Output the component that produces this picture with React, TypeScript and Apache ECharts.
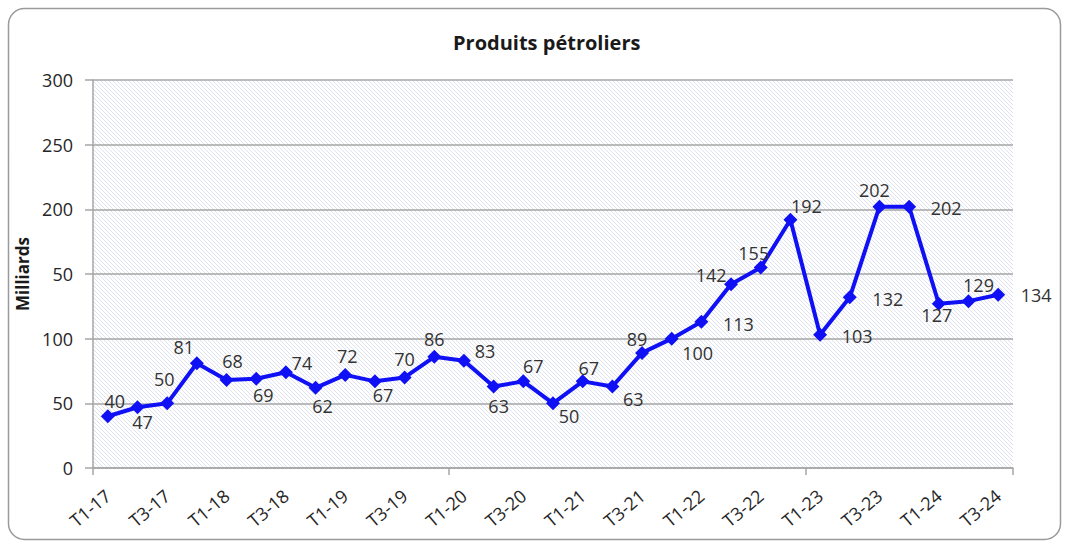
import React, { useEffect, useRef } from "react";
import * as echarts from "echarts";

const categories = [
  "T1-17", "T2-17", "T3-17", "T4-17",
  "T1-18", "T2-18", "T3-18", "T4-18",
  "T1-19", "T2-19", "T3-19", "T4-19",
  "T1-20", "T2-20", "T3-20", "T4-20",
  "T1-21", "T2-21", "T3-21", "T4-21",
  "T1-22", "T2-22", "T3-22", "T4-22",
  "T1-23", "T2-23", "T3-23", "T4-23",
  "T1-24", "T2-24", "T3-24",
];

const values = [
  40, 47, 50, 81, 68, 69, 74, 62, 72, 67, 70, 86, 83, 63, 67, 50,
  67, 63, 89, 100, 113, 142, 155, 192, 103, 132, 202, 202, 127, 129, 134,
];

// Tick labels as printed on the original (the 150 tick reads "50")
const yTickLabels = ["0", "50", "100", "50", "200", "250", "300"];

const title = "Produits pétroliers";
const yName = "Milliards";

// label centre offsets from each point (pixels)
const labelOffsets: [number, number][] = [
  [7, -15], [5, 15], [-3, -24], [-13, -16], [6, -19], [7, 16], [16, -9], [7, 18],
  [2, -19], [8, 14], [0, -18], [0, -18], [21, -10], [5, 19], [10, -15], [16, 13],
  [6, -13], [21, 12], [-5, -14], [26, 14], [37, 2], [-20, -9], [-7, -15], [16, -14],
  [37, 1], [38, 2], [-5, -17], [37, 1], [-2, 11], [10, -16], [38, 0],
];

function makePattern(): HTMLCanvasElement {
  const c = document.createElement("canvas");
  c.width = 8;
  c.height = 8;
  const ctx = c.getContext("2d")!;
  ctx.fillStyle = "#ffffff";
  ctx.fillRect(0, 0, 8, 8);
  ctx.strokeStyle = "rgba(196,204,226,0.55)";
  ctx.lineWidth = 1;
  for (let k = -3; k <= 3; k++) {
    ctx.beginPath();
    ctx.moveTo(-1, -1 + 4 * k);
    ctx.lineTo(9, 9 + 4 * k);
    ctx.stroke();
  }
  return c;
}

export default function App() {
  const ref = useRef<HTMLDivElement>(null);
  useEffect(() => {
    if (!ref.current) return;
    const chart = echarts.init(ref.current, undefined, { renderer: "svg" });
    const font = "'Open Sans', 'Liberation Sans', sans-serif";
    chart.setOption({
      animation: false,
      textStyle: { fontFamily: font },
      title: {
        text: title,
        left: 448,
        top: 27,
        textStyle: { fontSize: 20, fontWeight: "bold", color: "#1a1a1a", fontFamily: font },
      },
      graphic: [
        {
          type: "rect",
          shape: { x: 8.5, y: 8.5, width: 1052, height: 531, r: 16 },
          style: { fill: "none", stroke: "#9a9a9a", lineWidth: 1.5 },
          silent: true,
          z: -10,
        },
      ],
      grid: {
        left: 93,
        right: 53,
        top: 80,
        bottom: 76,
        show: true,
        borderWidth: 0,
        backgroundColor: { image: makePattern(), repeat: "repeat" },
      },
      xAxis: {
        type: "category",
        data: categories,
        boundaryGap: true,
        axisLine: { show: true, lineStyle: { color: "#a6a6a6", width: 1.5 } },
        axisTick: { show: true, interval: 11, length: 7, lineStyle: { color: "#a6a6a6", width: 1.5 } },
        axisLabel: {
          interval: 1,
          rotate: 40,
          margin: 25,
          fontSize: 18,
          color: "#262626",
          fontFamily: font,
        },
      },
      yAxis: {
        type: "value",
        min: 0,
        max: 300,
        interval: 50,
        name: yName,
        nameLocation: "middle",
        nameGap: 38,
        nameTextStyle: { fontSize: 17, fontWeight: "bold", color: "#1a1a1a", fontFamily: font },
        axisLine: { show: true, lineStyle: { color: "#a6a6a6", width: 1.5 } },
        axisTick: { show: true, length: 8, lineStyle: { color: "#a6a6a6", width: 1.5 } },
        axisLabel: {
          margin: 20,
          fontSize: 18,
          color: "#262626",
          fontFamily: font,
          formatter: (v: number) => yTickLabels[Math.round(v / 50)] ?? String(v),
        },
        splitLine: { show: true, lineStyle: { color: "#a6a6a6", width: 1.5 } },
      },
      series: [
        {
          type: "line",
          data: values.map((v, i) => ({
            value: v,
            label: { offset: labelOffsets[i] },
          })),
          symbol: "diamond",
          symbolSize: [14, 14],
          itemStyle: { color: "#1010f5" },
          lineStyle: { color: "#1010f5", width: 4 },
          label: {
            show: true,
            position: "inside",
            align: "center",
            verticalAlign: "middle",
            fontSize: 18,
            color: "#333333",
            fontFamily: font,
          },
          z: 5,
        },
      ],
    });
    return () => chart.dispose();
  }, []);
  return (
    <div
      ref={ref}
      style={{ position: "absolute", left: 0, top: 0, width: 1066, height: 544, background: "#fff" }}
    />
  );
}
